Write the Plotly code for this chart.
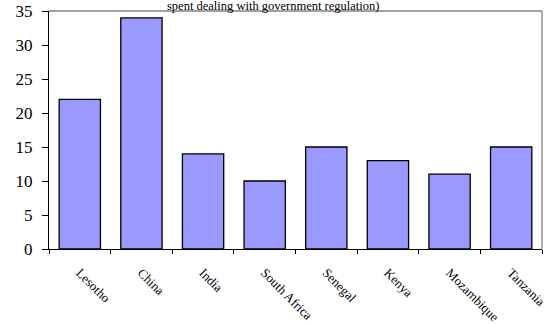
import plotly.graph_objects as go

countries = ["Lesotho", "China", "India", "South Africa", "Senegal", "Kenya", "Mozambique", "Tanzania"]
values = [22, 34, 14, 10, 15, 13, 11, 15]
y_ticks = [0, 5, 10, 15, 20, 25, 30, 35]

serif = "Liberation Serif"

fig = go.Figure(
    go.Bar(
        x=countries,
        y=values,
        marker=dict(color="#9999FF", line=dict(color="black", width=1.3)),
        width=0.67,
    )
)

fig.update_layout(
    width=552,
    height=324,
    margin=dict(l=49, r=10, t=11, b=75),
    paper_bgcolor="white",
    plot_bgcolor="white",
    showlegend=False,
    font=dict(family=serif, color="black"),
    shapes=[
        dict(type="line", xref="paper", yref="paper", x0=0, x1=1, y0=1, y1=1,
             line=dict(color="#808080", width=1.3)),
        dict(type="line", xref="paper", yref="paper", x0=1, x1=1, y0=0, y1=1,
             line=dict(color="#808080", width=1.3)),
    ],
    annotations=[
        dict(text="spent dealing with government regulation)", xref="paper", yref="paper",
             x=0.454, y=1.021, xanchor="center", yanchor="middle", showarrow=False,
             borderpad=0, font=dict(family=serif, size=12.5, color="black")),
    ],
)

fig.update_xaxes(
    type="category",
    tickson="boundaries",
    ticks="outside",
    ticklen=4,
    tickcolor="black",
    showline=True,
    linecolor="black",
    linewidth=1.3,
    showgrid=False,
    tickangle=45,
    ticklabelstandoff=10,
    automargin=False,
    tickfont=dict(family=serif, size=13, color="black"),
)

fig.update_yaxes(
    range=[0, 35],
    tickvals=y_ticks,
    ticks="outside",
    ticklen=6,
    tickcolor="black",
    showline=True,
    linecolor="black",
    linewidth=1.3,
    showgrid=False,
    zeroline=False,
    ticklabelstandoff=6,
    automargin=False,
    tickfont=dict(family=serif, size=17, color="black"),
)

fig.write_html("out.html")
